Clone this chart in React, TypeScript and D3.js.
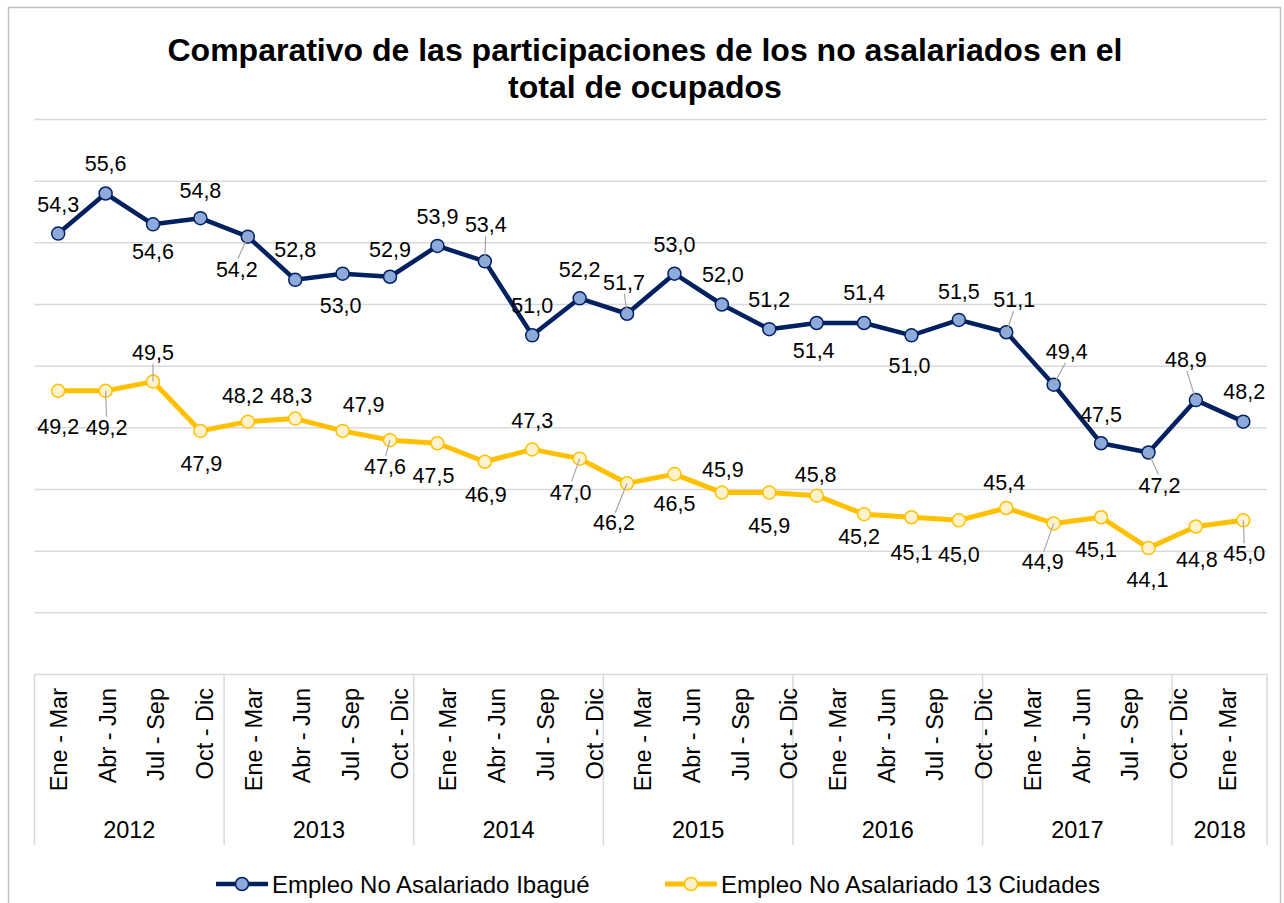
import React from "react";
import * as d3 from "d3";

const quarterLabels = [
  "Ene - Mar", "Abr - Jun", "Jul - Sep", "Oct - Dic",
  "Ene - Mar", "Abr - Jun", "Jul - Sep", "Oct - Dic",
  "Ene - Mar", "Abr - Jun", "Jul - Sep", "Oct - Dic",
  "Ene - Mar", "Abr - Jun", "Jul - Sep", "Oct - Dic",
  "Ene - Mar", "Abr - Jun", "Jul - Sep", "Oct - Dic",
  "Ene - Mar", "Abr - Jun", "Jul - Sep", "Oct - Dic",
  "Ene - Mar",
];
const years = ["2012", "2013", "2014", "2015", "2016", "2017", "2018"];
const yearCounts = [4, 4, 4, 4, 4, 4, 2];

const ibague = [
  54.3, 55.6, 54.6, 54.8, 54.2, 52.8, 53.0, 52.9, 53.9, 53.4, 51.0, 52.2, 51.7,
  53.0, 52.0, 51.2, 51.4, 51.4, 51.0, 51.5, 51.1, 49.4, 47.5, 47.2, 48.9, 48.2,
];
const ciudades13 = [
  49.2, 49.2, 49.5, 47.9, 48.2, 48.3, 47.9, 47.6, 47.5, 46.9, 47.3, 47.0, 46.2,
  46.5, 45.9, 45.9, 45.8, 45.2, 45.1, 45.0, 45.4, 44.9, 45.1, 44.1, 44.8, 45.0,
];
const seriesNames = ["Empleo No Asalariado Ibagué", "Empleo No Asalariado 13 Ciudades"];

// label placement (offset from marker, leader line flag)
const ibagueLabelPos: [number, number, boolean][] = [
  [0, -29, false], [0, -30, false], [0, 28, false], [0, -27, false], [-11, 33, true],
  [0, -30, false], [-2, 32, false], [0, -27, false], [0, -29, false], [1, -36, true],
  [0, -29, false], [0, -28, false], [-3, -31, true], [0, -29, false], [1, -30, false],
  [0, -29, false], [-3, 28, false], [0, -30, false], [-2, 31, false], [0, -28, false],
  [8, -32, true], [13, -33, true], [0, -28, false], [11, 33, true], [-10, -40, true],
  [1, -30, false],
];
const ciudadesLabelPos: [number, number, boolean][] = [
  [0, 36, false], [1, 37, true], [0, -29, true], [1, 33, false], [-5, -26, false],
  [-4, -23, false], [21, -26, false], [-5, 27, true], [-4, 33, false], [1, 33, false],
  [0, -28, false], [-9, 34, true], [-13, 40, true], [0, 30, false], [1, -23, false],
  [0, 33, false], [-1, -21, false], [-5, 23, false], [0, 36, false], [0, 35, false],
  [-2, -25, false], [-11, 39, true], [-5, 33, false], [-1, 32, false], [1, 33, false],
  [1, 34, true],
];

const W = 1284;
const H = 903;
const plotL = 34.5;
const plotR = 1267;
const plotT = 119.5;
const plotB = 674.5;
const FONT = "'Liberation Sans', Arial, Helvetica, sans-serif";

const NAVY = "#002060";
const NAVY_FILL = "#8eaadb";
const GOLD = "#ffc000";
const GOLD_FILL = "#fff2cc";
const GRID = "#d9d9d9";

const fmt = (v: number) => v.toFixed(1).replace(".", ",");

export default function App() {
  const idx = d3.range(ibague.length);
  const x = d3.scalePoint<number>().domain(idx).range([plotL, plotR]).padding(0.5);
  const step = x.step();
  const y = d3.scaleLinear().domain([40, 58]).range([plotB, plotT]);
  const gridVals = d3.range(42, 58.01, 2);

  const labelScale = d3
    .scalePoint<number>()
    .domain(d3.range(quarterLabels.length))
    .range([plotL, plotR - 15])
    .padding(0.5);

  const cum = [0, ...d3.cumsum(yearCounts)];
  const bounds = cum.map((c) => Math.min(plotL + c * step, plotR));

  const line = d3
    .line<number>()
    .x((_, i) => x(i) as number)
    .y((d) => y(d));

  const series = [
    { data: ibague, color: NAVY, fill: NAVY_FILL, width: 4.5, pos: ibagueLabelPos },
    { data: ciudades13, color: GOLD, fill: GOLD_FILL, width: 5, pos: ciudadesLabelPos },
  ];

  const legendItems = [
    { x: 216, color: NAVY, fill: NAVY_FILL, width: 4.5, name: seriesNames[0] },
    { x: 665, color: GOLD, fill: GOLD_FILL, width: 5, name: seriesNames[1] },
  ];
  const legendY = 884;

  return (
    <svg
      width={W}
      height={H}
      style={{ position: "absolute", left: 0, top: 0, background: "#fff" }}
      fontFamily={FONT}
    >
      <rect x={0} y={0} width={W} height={H} fill="#fff" />
      <rect x={8.5} y={7.5} width={1272} height={910} fill="none" stroke="#bfbfbf" strokeWidth={1.5} />

      {/* title */}
      <text x={645} y={61} textAnchor="middle" fontSize={32} fontWeight="bold" fill="#000">
        Comparativo de las participaciones de los no asalariados en el
      </text>
      <text x={645} y={98} textAnchor="middle" fontSize={32} fontWeight="bold" fill="#000">
        total de ocupados
      </text>

      {/* gridlines */}
      {gridVals.map((v) => (
        <line key={v} x1={plotL} x2={plotR} y1={y(v)} y2={y(v)} stroke={GRID} strokeWidth={1.5} />
      ))}

      {/* category axis */}
      <line x1={plotL} x2={plotR} y1={plotB} y2={plotB} stroke={GRID} strokeWidth={1.5} />
      {bounds.map((bx, i) => (
        <line key={i} x1={bx} x2={bx} y1={plotB} y2={845} stroke={GRID} strokeWidth={1.5} />
      ))}
      {quarterLabels.map((lab, i) => (
        <text
          key={i}
          transform={`translate(${labelScale(i)},688) rotate(-90)`}
          textAnchor="end"
          dominantBaseline="central"
          fontSize={23.5}
          fill="#000"
        >
          {lab}
        </text>
      ))}
      {years.map((yr, i) => (
        <text
          key={yr}
          x={(bounds[i] + bounds[i + 1]) / 2}
          y={830}
          textAnchor="middle"
          dominantBaseline="central"
          fontSize={23.5}
          fill="#000"
        >
          {yr}
        </text>
      ))}

      {/* series lines */}
      {series.map((s, si) => (
        <path key={si} d={line(s.data) || ""} fill="none" stroke={s.color} strokeWidth={s.width} strokeLinejoin="round" />
      ))}
      {series.map((s, si) =>
        s.data.map((v, i) => (
          <circle key={`${si}-${i}`} cx={x(i)} cy={y(v)} r={6.5} fill={s.fill} stroke={s.color} strokeWidth={1.5} />
        ))
      )}

      {/* leader lines */}
      {series.map((s, si) =>
        s.data.map((v, i) => {
          const [dx, dy, leader] = s.pos[i];
          if (!leader) return null;
          const px = x(i) as number;
          const py = y(v);
          const ey = py + dy - Math.sign(dy) * 11;
          return (
            <line key={`l${si}-${i}`} x1={px + dx * 0.9} y1={ey} x2={px} y2={py} stroke="#a6a6a6" strokeWidth={1.2} />
          );
        })
      )}

      {/* data labels */}
      {series.map((s, si) =>
        s.data.map((v, i) => {
          const [dx, dy] = s.pos[i];
          return (
            <text
              key={`t${si}-${i}`}
              x={(x(i) as number) + dx}
              y={y(v) + dy}
              textAnchor="middle"
              dominantBaseline="central"
              fontSize={21.5}
              fill="#000"
            >
              {fmt(v)}
            </text>
          );
        })
      )}

      {/* legend */}
      {legendItems.map((it, i) => (
        <g key={i}>
          <line x1={it.x} x2={it.x + 52} y1={legendY} y2={legendY} stroke={it.color} strokeWidth={it.width} />
          <circle cx={it.x + 26} cy={legendY} r={6.5} fill={it.fill} stroke={it.color} strokeWidth={1.5} />
          <text x={it.x + 56} y={legendY} dominantBaseline="central" fontSize={24} fill="#000">
            {it.name}
          </text>
        </g>
      ))}
    </svg>
  );
}
